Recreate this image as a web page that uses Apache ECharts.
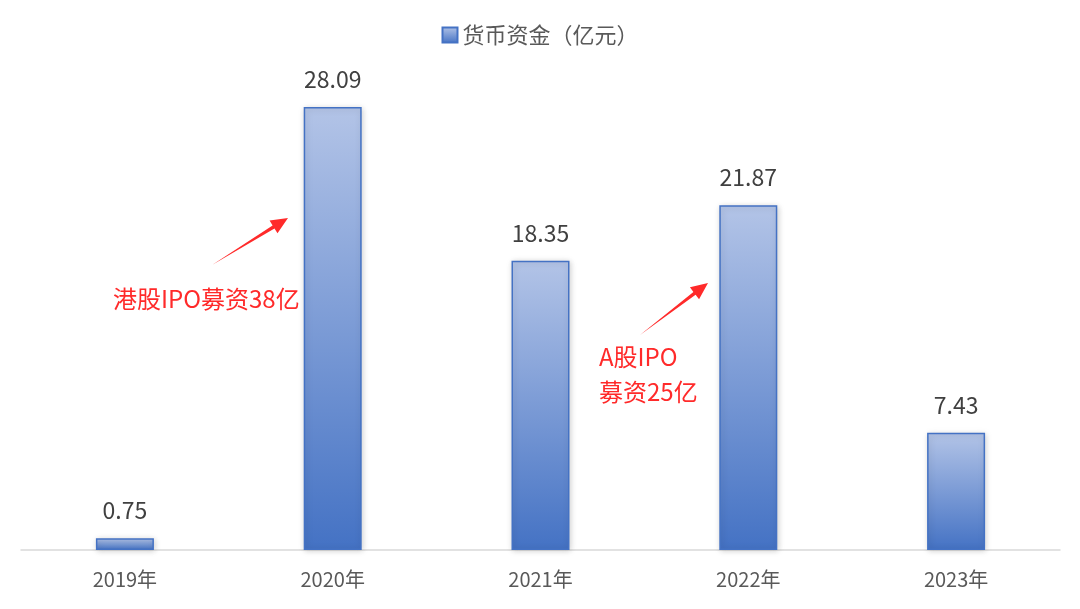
<!DOCTYPE html>
<html><head><meta charset="utf-8">
<script src="https://cdn.jsdelivr.net/npm/echarts@6/dist/echarts.min.js"></script>
<style>html,body{margin:0;padding:0;background:#fff}#c{width:1080px;height:609px}</style>
</head><body><div id="c"></div>
<script>
const categories = ['2019年','2020年','2021年','2022年','2023年'];
const cash = [0.75, 28.09, 18.35, 21.87, 7.43];
const seriesName = '货币资金（亿元）';
const note1 = '港股IPO募资38亿';
const note2 = ['A股IPO', '募资25亿'];

const FONT = '"Noto Sans CJK SC", "Microsoft YaHei", sans-serif';
const chart = echarts.init(document.getElementById('c'));
const red = '#ff2a2a';
function arrow(x1,y1,x2,y2){
  const dx=x2-x1, dy=y2-y1, L=Math.hypot(dx,dy), ux=dx/L, uy=dy/L, nx=-uy, ny=ux;
  const hl=17, hw=7.5, sw=1.8;
  const bx=x2-ux*hl, by=y2-uy*hl;
  return {type:'polygon', shape:{points:[
    [x1,y1],[bx+nx*sw,by+ny*sw],[bx+nx*hw,by+ny*hw],[x2,y2],[bx-nx*hw,by-ny*hw],[bx-nx*sw,by-ny*sw]
  ]}, style:{fill:red}};
}
chart.setOption({
  animation:false,
  textStyle:{fontFamily:FONT},
  legend:{top:19,left:'center',icon:'rect',itemWidth:15,itemHeight:15,itemGap:10,
    textStyle:{fontSize:22,color:'#595959',fontFamily:FONT}},
  grid:{left:21,right:20,top:77,bottom:59},
  xAxis:{type:'category',data:categories,
    axisLine:{lineStyle:{color:'#d9d9d9',width:1.5}},axisTick:{show:false},
    axisLabel:{fontSize:20,color:'#595959',margin:19,fontFamily:FONT}},
  yAxis:{type:'value',min:0,max:30,show:false,splitLine:{show:false}},
  series:[{name:seriesName,type:'bar',data:cash,barWidth:58,
    itemStyle:{color:new echarts.graphic.LinearGradient(0,0,0,1,[
      {offset:0,color:'#b3c4e7'},{offset:1,color:'#4472c4'}]),
      borderColor:'#4472c4',borderWidth:1.5,
      shadowColor:'rgba(0,0,0,0.18)',shadowBlur:6,shadowOffsetX:1,shadowOffsetY:1},
    label:{show:true,position:'top',distance:16,fontSize:23,color:'#404040',fontFamily:FONT,
      formatter:p=>p.value.toFixed(2)}}],
  graphic:[
    arrow(212,265,288,218),
    arrow(640,335,708,283),
    {type:'text',left:113,top:287,style:{text:note1,fill:red,font:'24px '+FONT}},
    {type:'text',left:599,top:339,style:{text:note2.join('\n'),fill:red,font:'24px '+FONT,lineHeight:35}}
  ]
});
</script></body></html>
